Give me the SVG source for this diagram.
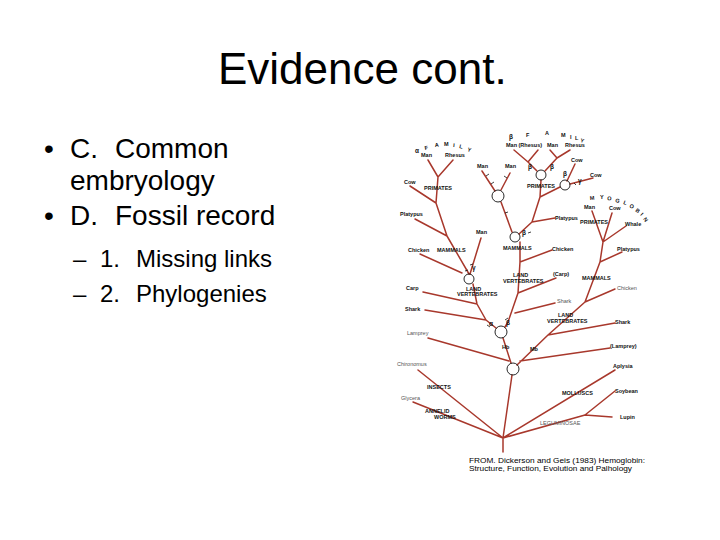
<svg xmlns="http://www.w3.org/2000/svg" width="720" height="540" viewBox="0 0 720 540">
<style>
.t{font-family:"Liberation Sans",Arial,sans-serif;fill:#000}
.title{font-size:44px}
.b1{font-size:28px}
.b2{font-size:24px}
.lb{font-family:"Liberation Sans",Arial,sans-serif;font-size:5.5px;font-weight:bold;fill:#111}
.lt{font-family:"Liberation Sans",Arial,sans-serif;font-size:5.5px;fill:#555}
.gk{font-family:"Liberation Sans",Arial,sans-serif;font-size:6.5px;font-weight:bold;fill:#111}
.ref{font-family:"Liberation Sans",Arial,sans-serif;font-size:7.6px;fill:#000}
.br{stroke:#a8382c;stroke-width:1.5;fill:none;stroke-linecap:round;stroke-linejoin:round}
.nd{fill:none;stroke:#111;stroke-width:0.9}
</style>
<rect width="720" height="540" fill="#fff"/>
<g id="slide-text">
<text class="t title" x="218" y="84">Evidence cont.</text>
<text class="t b1" x="44" y="158">•</text>
<text class="t b1" x="70" y="158">C.</text>
<text class="t b1" x="115" y="158">Common</text>
<text class="t b1" x="70" y="190">embryology</text>
<text class="t b1" x="44" y="225">•</text>
<text class="t b1" x="70" y="225">D.</text>
<text class="t b1" x="115" y="225">Fossil record</text>
<text class="t b2" x="73" y="267">–</text>
<text class="t b2" x="100" y="267">1.</text>
<text class="t b2" x="136" y="267">Missing links</text>
<text class="t b2" x="73" y="302">–</text>
<text class="t b2" x="100" y="302">2.</text>
<text class="t b2" x="136" y="302">Phylogenies</text>
</g>
<g id="connectors">
<path class="br" d="M428,160 L438,177 M453,160 L438,177 M438,177 L436,203 L447,236 L469,274 M410,186 L436,203 M415,219 L447,236 M420,254 L462,273 M481,238 L470,274 M473,284 L477,304 L486,320 L496,328 M423,292 L477,304 M425,310 L486,320 M428,338 L509,361"/>
<path class="br" d="M482,171 L495,191 M510,173 L501,190 M501,202 L512,232 M520,242 L520,262 L518,293 L508,322 L505,327 M520,262 L552,250 M518,293 L556,278 M515,313 L555,303"/>
<path class="br" d="M514,150 L528,162 M538,150 L528,162 M550,150 L557,158 M570,150 L557,158 M528,162 L537,171 M557,158 L545,171 M541,180 L540,197 L532,222 L519,234 M540,197 L560,187 M567,181 L575,164 M570,184 L593,178 M532,222 L555,218"/>
<path class="br" d="M592,211 L603,242 M612,213 L603,242 M626,226 L603,242 M603,242 L600,262 L585,302 L548,335 L517,365 M600,262 L622,252 M585,302 L615,289 M548,335 L615,323 M520,361 L610,348"/>
<path class="br" d="M503,338 L511,363 M512,375 L503,438 L503,452 M418,370 L503,438 M413,402 L503,438 M503,438 L615,370 M503,438 L585,415 L615,391 M585,415 L612,417"/>
<path d="M486,176 l3,-2 M491,184 l3,-2 M507,178 l-3,-2 M505,213 l3,-1 M528,233 l3,-1 M487,325 l3,2 M508,318 l-3,2 M465,271 l3,-1 M470,265 l3,-1 M574,183 l2,2" stroke="#111" stroke-width="0.8"/>
</g>
<g id="alpha-family">
<text class="gk" x="415" y="153">α</text>
<text class="lb" x="425" y="150" transform="rotate(-12 425 150)">F</text>
<text class="lb" x="435" y="147" transform="rotate(-6 435 147)">A</text>
<text class="lb" x="444" y="146">M</text>
<text class="lb" x="453" y="147" transform="rotate(6 453 147)">I</text>
<text class="lb" x="459" y="148" transform="rotate(12 459 148)">L</text>
<text class="lb" x="467" y="151" transform="rotate(18 467 151)">Y</text>
<text class="lb" x="421" y="157">Man</text>
<text class="lb" x="445" y="157">Rhesus</text>
<text class="lb" x="424" y="190">PRIMATES</text>
<text class="lb" x="404" y="184">Cow</text>
<text class="lb" x="400" y="216">Platypus</text>
<text class="lb" x="408" y="252">Chicken</text>
<text class="lb" x="437" y="252">MAMMALS</text>
<text class="lb" x="406" y="290">Carp</text>
<text class="lb" x="405" y="311">Shark</text>
<text class="lt" x="407" y="335">Lamprey</text>
<text class="lb" x="476" y="234">Man</text>
<text class="gk" x="472" y="270" font-size="5">γ</text>
<circle class="nd" cx="469" cy="279" r="5"/>
<text class="lb" x="466" y="291">LAND</text>
<text class="lb" x="457" y="296">VERTEBRATES</text>
<text class="gk" x="489" y="326" font-size="5">α</text>
</g>
<g id="beta-family">
<text class="gk" x="509" y="139">β</text>
<text class="lb" x="526" y="137">F</text>
<text class="lb" x="545" y="135">A</text>
<text class="lb" x="561" y="137">M</text>
<text class="lb" x="570" y="139">I</text>
<text class="lb" x="575" y="140">L</text>
<text class="lb" x="580" y="142" transform="rotate(15 580 142)">Y</text>
<text class="lb" x="506" y="147">Man (Rhesus)</text>
<text class="lb" x="547" y="147">Man</text>
<text class="lb" x="565" y="147">Rhesus</text>
<text class="gk" x="528" y="169" font-size="5">β</text>
<text class="gk" x="550" y="169" font-size="5">β</text>
<circle class="nd" cx="541" cy="175" r="5"/>
<text class="lb" x="527" y="188">PRIMATES</text>
<circle class="nd" cx="565" cy="185" r="5"/>
<text class="gk" x="563" y="176" font-size="5">β</text>
<text class="gk" x="578" y="183" font-size="5">γ</text>
<text class="lb" x="571" y="162">Cow</text>
<text class="lb" x="590" y="177">Cow</text>
<text class="lb" x="555" y="220">Platypus</text>
<text class="lb" x="477" y="168">Man</text>
<text class="lb" x="505" y="168">Man</text>
<circle class="nd" cx="498" cy="196" r="6"/>
<circle class="nd" cx="515" cy="237" r="5"/>
<text class="gk" x="522" y="235" font-size="5">β</text>
<text class="lb" x="503" y="250">MAMMALS</text>
<text class="lb" x="552" y="251">Chicken</text>
<text class="lb" x="513" y="277">LAND</text>
<text class="lb" x="503" y="283">VERTEBRATES</text>
<text class="lb" x="553" y="276">(Carp)</text>
<text class="lt" x="557" y="303">Shark</text>
<text class="gk" x="506" y="325" font-size="5">β</text>
</g>
<g id="myoglobin">
<text class="lb" x="590" y="200" transform="rotate(-5 590 200)">M</text>
<text class="lb" x="600" y="199">Y</text>
<text class="lb" x="607" y="200" transform="rotate(8 607 200)">O</text>
<text class="lb" x="615" y="202" transform="rotate(14 615 202)">G</text>
<text class="lb" x="623" y="204" transform="rotate(20 623 204)">L</text>
<text class="lb" x="629" y="207" transform="rotate(28 629 207)">O</text>
<text class="lb" x="635" y="211" transform="rotate(36 635 211)">B</text>
<text class="lb" x="640" y="215" transform="rotate(45 640 215)">I</text>
<text class="lb" x="643" y="219" transform="rotate(55 643 219)">N</text>
<text class="lb" x="584" y="209">Man</text>
<text class="lb" x="609" y="210">Cow</text>
<text class="lb" x="580" y="224">PRIMATES</text>
<text class="lb" x="625" y="226">Whale</text>
<text class="lb" x="617" y="251">Platypus</text>
<text class="lb" x="582" y="280">MAMMALS</text>
<text class="lt" x="617" y="290">Chicken</text>
<text class="lb" x="558" y="317">LAND</text>
<text class="lb" x="547" y="323">VERTEBRATES</text>
<text class="lb" x="615" y="324">Shark</text>
<text class="lb" x="610" y="348">(Lamprey)</text>
<text class="lb" x="530" y="351">Mb</text>
</g>
<g id="hemoglobin-root">
<circle class="nd" cx="501" cy="332" r="6"/>
<text class="lb" x="502" y="349">Hb</text>
<circle class="nd" cx="513" cy="369" r="6"/>
</g>
<g id="invertebrates">
<text class="lt" x="397" y="366">Chironomus</text>
<text class="lb" x="427" y="389">INSECTS</text>
<text class="lt" x="401" y="400">Glycera</text>
<text class="lb" x="425" y="413">ANNELID</text>
<text class="lb" x="434" y="419">WORMS</text>
<text class="lb" x="613" y="368">Aplysia</text>
<text class="lb" x="562" y="395">MOLLUSCS</text>
<text class="lb" x="615" y="393">Soybean</text>
<text class="lb" x="620" y="419">Lupin</text>
<text class="lt" x="540" y="425">LEGUMINOSAE</text>
</g>
<g id="citation">
<text class="ref" x="469" y="463" textLength="176" lengthAdjust="spacingAndGlyphs">FROM. Dickerson and Geis (1983) Hemoglobin:</text>
<text class="ref" x="469" y="471" textLength="163" lengthAdjust="spacingAndGlyphs">Structure, Function, Evolution and Palhology</text>
</g>
</svg>
